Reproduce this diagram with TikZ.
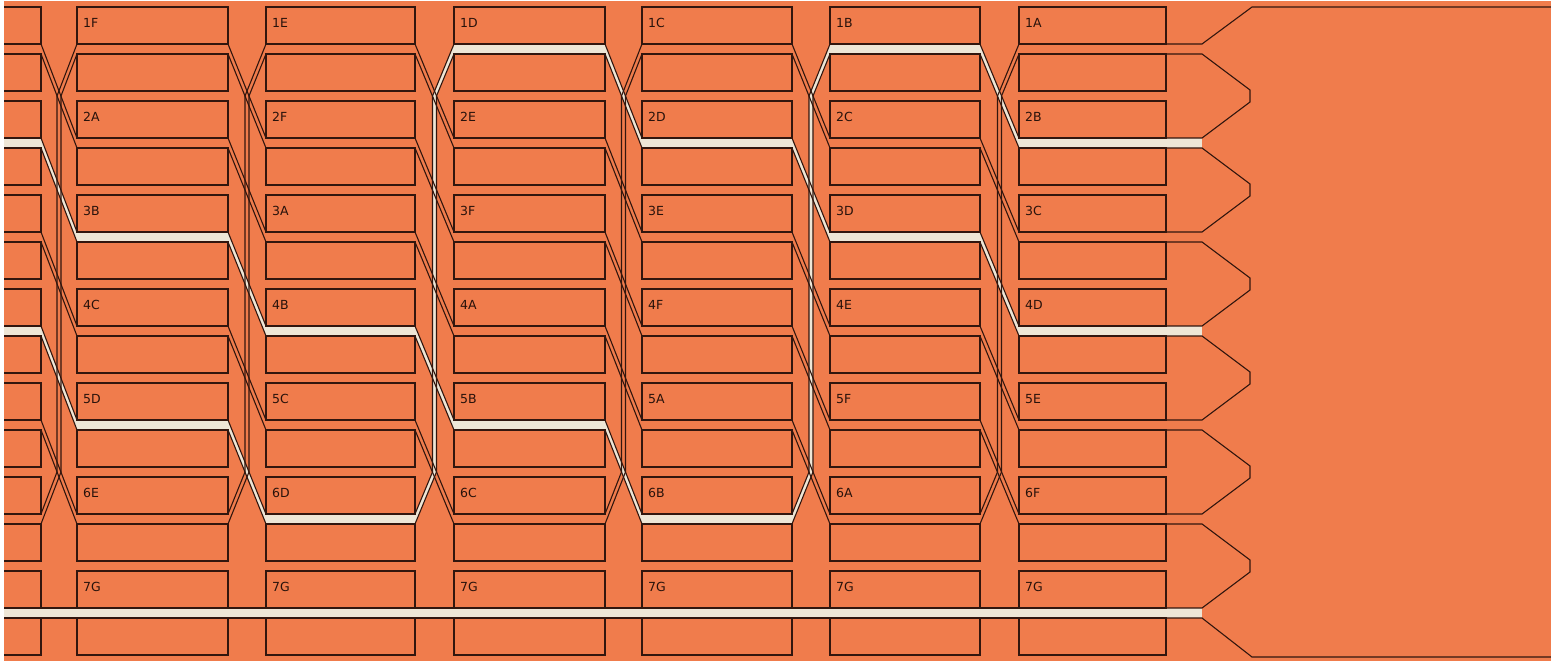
\documentclass[tikz,border=0pt]{standalone}
\usepackage{fontspec}
\newfontfamily\cellfont{DejaVu Sans}
\definecolor{sheet}{RGB}{240,124,76}
\definecolor{cream}{RGB}{238,230,214}
\definecolor{ink}{RGB}{50,22,14}

\begin{document}
\begin{tikzpicture}[x=1pt, y=-1pt,
  cell/.style={draw=ink, line width=1.05pt},
  strip/.style={draw=ink, line width=1.1pt, line join=miter},
  hilite/.style={fill=cream},
  tag/.style={font=\cellfont\fontsize{12.5}{14}\selectfont, text=ink!80!black, inner sep=0pt, anchor=base west}]

  \useasboundingbox (0,0) rectangle (1551,664);
  \fill[white] (0,0) rectangle (1551,664);
  \fill[sheet] (4,1) rectangle (1570,661);

  \begin{scope}
  \clip (4,1) rectangle (1570,661);

  %% Highlighted tracks (B, D and the fixed G row)
  \fill[hilite] (0,608) rectangle (1202,618);
  \foreach \c/\xl/\xe in {0/-111/41, 1/77/228, 2/266/415, 3/454/605, 4/642/792, 5/830/980, 6/1019/1202} {
    \foreach \o in {2,4} {
      \pgfmathtruncatemacro\r{mod(\c+\o-1,6)+1}
      \fill[hilite] (\xl,{44+94*(\r-1)}) rectangle (\xe,{54+94*(\r-1)});
    }
  }
  \foreach \g/\xr/\xl in {0/41/77, 1/228/266, 2/415/454, 3/605/642, 4/792/830, 5/980/1019} {
    \pgfmathsetmacro\xm{(\xr+\xl)/2}
    \foreach \o in {2,4} {
      \pgfmathtruncatemacro\r{mod(\g+\o-1,6)+1}
      \ifnum\r<6
        \fill[hilite] (\xr,{44+94*(\r-1)}) -- (\xl,{44+94*\r}) -- (\xl,{54+94*\r}) -- (\xr,{54+94*(\r-1)}) -- cycle;
      \else
        \fill[hilite] (\xr,514) -- ({\xm-2},472) -- ({\xm-2},96) -- (\xl,44)
          -- (\xl,54) -- ({\xm+2},96) -- ({\xm+2},472) -- (\xr,524) -- cycle;
      \fi
    }
  }

  %% Columns of cells
  \foreach \c/\xl/\xr in {0/-111/41, 1/77/228, 2/266/415, 3/454/605, 4/642/792, 5/830/980, 6/1019/1166} {
    \foreach \r in {1,...,7} {
      \draw[cell] (\xl,{7+94*(\r-1)}) rectangle (\xr,{44+94*(\r-1)});
      \draw[cell] (\xl,{54+94*(\r-1)}) rectangle (\xr,{91+94*(\r-1)});
    }
    % labels
    \ifnum\c>0
      \foreach \r in {1,...,6} {
        \pgfmathtruncatemacro\k{mod(\r-\c+11,6)}
        \node[tag] (tag-\c-\r) at ({\xl+6},{27+94*(\r-1)})
          {\r\ifcase\k A\or B\or C\or D\or E\or F\fi};
      }
      \node[tag] (tag-\c-7) at ({\xl+6},591) {7G};
    \fi
  }

  %% Strips between columns
  \foreach \g/\xr/\xl in {0/41/77, 1/228/266, 2/415/454, 3/605/642, 4/792/830, 5/980/1019} {
    \pgfmathsetmacro\xm{(\xr+\xl)/2}
    \foreach \r in {1,...,5} {
      \draw[strip] (\xr,{44+94*(\r-1)}) -- (\xl,{44+94*\r});
      \draw[strip] (\xr,{54+94*(\r-1)}) -- (\xl,{54+94*\r});
    }
    % row 6 wraps back to row 1
    \draw[strip] (\xr,514) -- ({\xm-2},472) -- ({\xm-2},96) -- (\xl,44);
    \draw[strip] (\xr,524) -- ({\xm+2},472) -- ({\xm+2},96) -- (\xl,54);
    % row 7 runs straight
    \draw[strip] (\xr,608) -- (\xl,608);
    \draw[strip] (\xr,618) -- (\xl,618);
  }

  %% Right end: tabs
  \draw[strip] (1166,44) -- (1202,44) -- (1252,7) -- (1570,7);
  \foreach \r in {1,...,6} {
    \draw[strip] (1166,{54+94*(\r-1)}) -- (1202,{54+94*(\r-1)}) -- (1250,{90+94*(\r-1)})
      -- (1250,{102+94*(\r-1)}) -- (1202,{138+94*(\r-1)}) -- (1166,{138+94*(\r-1)});
  }
  \draw[strip] (1166,618) -- (1202,618) -- (1252,657) -- (1570,657);
  \end{scope}

\end{tikzpicture}
\end{document}
